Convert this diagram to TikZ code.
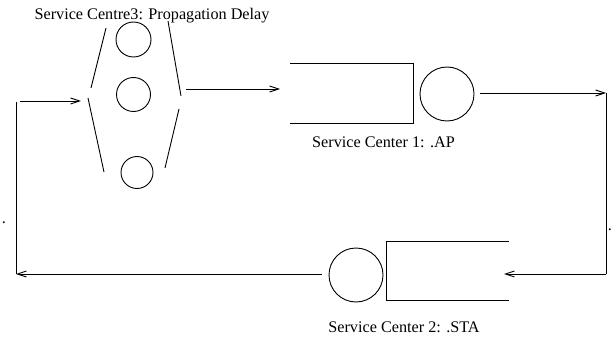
\documentclass[tikz,border=0pt]{standalone}
\usepackage{fontspec}
\setmainfont{Liberation Serif}
\usetikzlibrary{arrows.meta}
\tikzset{
  ln/.style={line width=0.9pt, black},
  arr/.style={ln, -{Straight Barb[length=9pt,width=6pt,line width=0.9pt]}},
  srv/.style={circle, draw, line width=0.9pt, inner sep=0pt},
  lbl/.style={font=\fontsize{16.2}{19}\selectfont, inner sep=0pt, anchor=base},
}
\begin{document}
\begin{tikzpicture}[x=1pt,y=-1pt]
\useasboundingbox (0,0) rectangle (613,350);
% labels
\node[lbl] (t3) at (152,20) {Service Centre3: Propagation Delay};
\node[lbl] (t1) at (383.5,148) {Service Center 1: .AP};
\node[lbl] (t2) at (404,332) {Service Center 2: .STA};
\node[lbl] (dl) at (4,223) {.};
\node[lbl] (dr) at (610,230) {.};
% service centre 3: three servers
\node[srv, minimum size=35pt] (s3a) at (133.5,39.5) {};
\node[srv, minimum size=34pt] (s3b) at (133.5,94.5) {};
\node[srv, minimum size=32pt] (s3c) at (137,172.5) {};
% brackets
\coordinate (bl1) at (106,28); \coordinate (bl2) at (91,88);
\coordinate (bl3) at (88,98);  \coordinate (bl4) at (104,172);
\coordinate (br1) at (168,21); \coordinate (br2) at (181,96);
\coordinate (br3) at (179,109);\coordinate (br4) at (165,168);
\draw[ln] (bl1) -- (bl2);
\draw[ln] (bl3) -- (bl4);
\draw[ln] (br1) -- (br2);
\draw[ln] (br3) -- (br4);
% service center 1
\coordinate (q1a) at (290,63); \coordinate (q1b) at (413,63);
\coordinate (q1c) at (413,123); \coordinate (q1d) at (290,123);
\draw[ln] (q1a) -- (q1b) -- (q1c) -- (q1d);
\node[srv, minimum size=54pt] (s1) at (447,94) {};
% service center 2
\coordinate (q2a) at (509,241); \coordinate (q2b) at (386,241);
\coordinate (q2c) at (386,300); \coordinate (q2d) at (509,300);
\draw[ln] (q2a) -- (q2b) -- (q2c) -- (q2d);
\node[srv, minimum size=54pt] (s2) at (356,275) {};
% connectors
\coordinate (o3) at (186,89);
\coordinate (i1) at (280,89);
\draw[arr] (o3) -- (i1);
\coordinate (o1) at (480,93);
\coordinate (rc) at (606,93);
\coordinate (rb) at (606,274);
\coordinate (i2) at (504,274);
\draw[arr] (o1) -- (rc);
\draw[ln] (rc) -- (rb);
\draw[arr] (rb) -- (i2);
\coordinate (o2) at (322,274);
\coordinate (lb) at (16,274);
\coordinate (lt) at (16,102);
\coordinate (a0) at (20,101);
\coordinate (i3) at (81,101);
\draw[arr] (o2) -- (lb);
\draw[ln] (lb) -- (lt);
\draw[arr] (a0) -- (i3);
\end{tikzpicture}
\end{document}
